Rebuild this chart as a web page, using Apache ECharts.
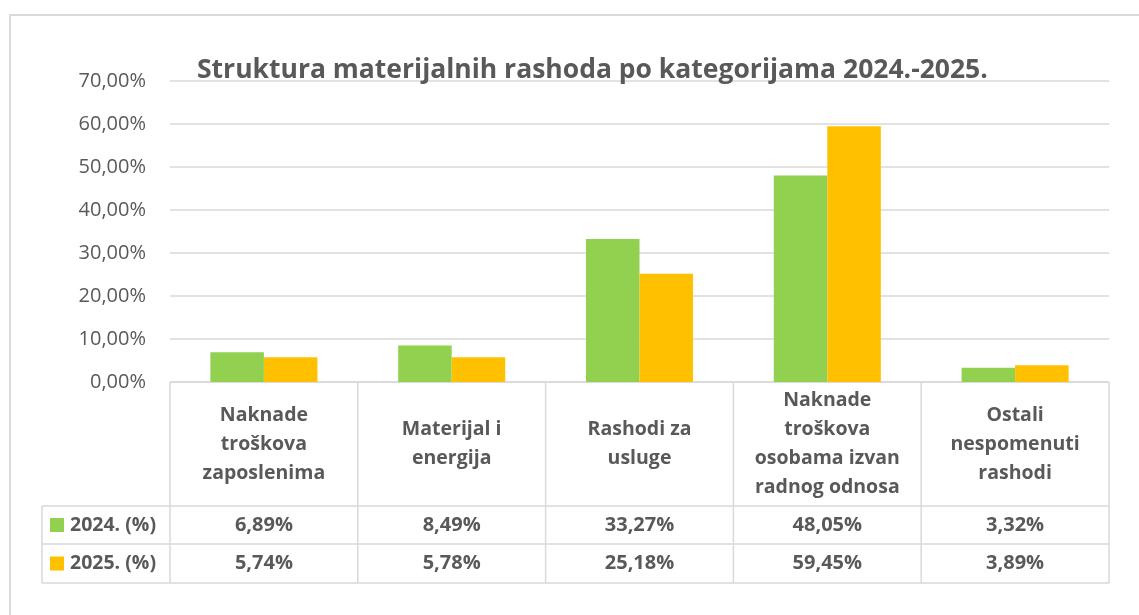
<!DOCTYPE html>
<html>
<head>
<meta charset="utf-8">
<script src="https://cdn.jsdelivr.net/npm/echarts@6/dist/echarts.min.js"></script>
<style>
html, body { margin: 0; padding: 0; background: #fff; }
#chart { width: 1139px; height: 615px; }
</style>
</head>
<body>
<div id="chart"></div>
<script>
// podaci
const categories = [
  'Naknade\ntroškova\nzaposlenima',
  'Materijal i\nenergija',
  'Rashodi za\nusluge',
  'Naknade\ntroškova\nosobama izvan\nradnog odnosa',
  'Ostali\nnespomenuti\nrashodi'
]
const seriesNames = ['2024. (%)', '2025. (%)']
const values2024 = [6.89, 8.49, 33.27, 48.05, 3.32]
const values2025 = [5.74, 5.78, 25.18, 59.45, 3.89]
const titleText = 'Struktura materijalnih rashoda po kategorijama 2024.-2025.'

const colors = ['#92d050', '#ffc000']
const textColor = '#595959'
const lineColor = '#d9d9d9'
const fontFamily = '"Open Sans", "Noto Sans", sans-serif'

// raspored
const plotLeft = 170
const plotRight = 1109
const axisY = 382
const headerBottom = 506
const row1Bottom = 544
const row2Bottom = 583
const legendLeft = 42

const fmt = v => v.toFixed(2).replace('.', ',') + '%'

const chart = echarts.init(document.getElementById('chart'))

chart.setOption({
  animation: false,
  title: {
    text: titleText,
    left: 192,
    top: 52,
    textStyle: { fontFamily, fontSize: 26.5, fontWeight: 'bold', color: textColor }
  },
  grid: { left: plotLeft, right: 1139 - plotRight, top: 81, bottom: 615 - axisY, containLabel: false },
  xAxis: {
    type: 'category',
    data: categories,
    axisLine: { show: false },
    axisTick: { show: false },
    axisLabel: { show: false }
  },
  yAxis: {
    type: 'value',
    min: 0,
    max: 70,
    interval: 10,
    axisLabel: {
      margin: 24,
      fontFamily,
      fontSize: 20,
      color: textColor,
      formatter: v => v.toFixed(2).replace('.', ',') + '%'
    },
    splitLine: { lineStyle: { color: lineColor, width: 1.5 } }
  },
  series: [
    { name: seriesNames[0], type: 'bar', data: values2024, barGap: '0%', barCategoryGap: '43%', itemStyle: { color: colors[0] } },
    { name: seriesNames[1], type: 'bar', data: values2025, barGap: '0%', barCategoryGap: '43%', itemStyle: { color: colors[1] } }
  ]
})

// tablica podataka ispod grafa
const band = (plotRight - plotLeft) / categories.length
const elements = []
const line = (x1, y1, x2, y2) => elements.push({
  type: 'line', silent: true,
  shape: { x1, y1, x2, y2 },
  style: { stroke: lineColor, lineWidth: 1.5 }
})

elements.push({
  type: 'rect', silent: true,
  shape: { x: 10, y: 15, width: 1140, height: 620 },
  style: { fill: null, stroke: lineColor, lineWidth: 2 }
})

line(plotLeft, axisY, plotRight, axisY)
line(legendLeft, headerBottom, plotRight, headerBottom)
line(legendLeft, row1Bottom, plotRight, row1Bottom)
line(legendLeft, row2Bottom, plotRight, row2Bottom)
line(legendLeft, headerBottom, legendLeft, row2Bottom)
for (let i = 0; i <= categories.length; i++) {
  const x = plotLeft + band * i
  line(x, axisY, x, row2Bottom)
}

const rows = [values2024, values2025]
const rowCenters = [(headerBottom + row1Bottom) / 2, (row1Bottom + row2Bottom) / 2]

categories.forEach((name, i) => {
  const cx = chart.convertToPixel({ xAxisIndex: 0 }, i)
  elements.push({
    type: 'text', silent: true,
    x: cx, y: (axisY + headerBottom) / 2,
    style: {
      text: name, fill: textColor, font: 'bold 19.5px ' + fontFamily,
      align: 'center', verticalAlign: 'middle', lineHeight: 29
    }
  })
  rows.forEach((vals, r) => {
    elements.push({
      type: 'text', silent: true,
      x: cx, y: rowCenters[r],
      style: {
        text: fmt(vals[i]), fill: textColor, font: 'bold 20px ' + fontFamily,
        align: 'center', verticalAlign: 'middle'
      }
    })
  })
})

seriesNames.forEach((name, r) => {
  elements.push({
    type: 'rect', silent: true,
    shape: { x: 50, y: rowCenters[r] - 7, width: 14, height: 14 },
    style: { fill: colors[r] }
  })
  elements.push({
    type: 'text', silent: true,
    x: 70, y: rowCenters[r],
    style: {
      text: name, fill: textColor, font: 'bold 19.5px ' + fontFamily,
      align: 'left', verticalAlign: 'middle'
    }
  })
})

chart.setOption({ graphic: { elements } })

window.addEventListener('resize', () => chart.resize())
</script>
</body>
</html>
